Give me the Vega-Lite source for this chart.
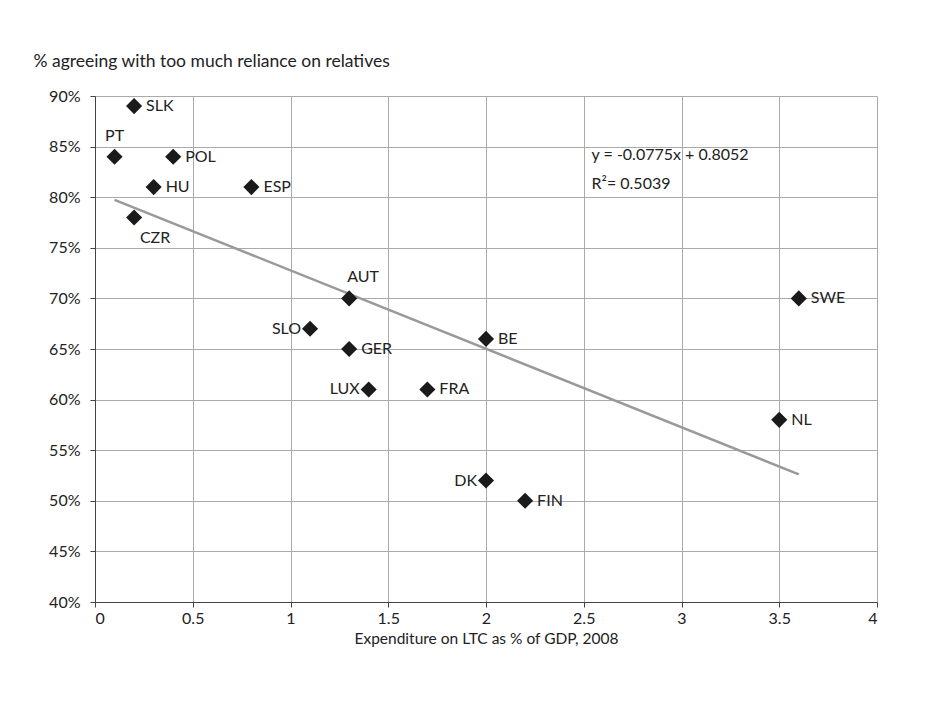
{
  "$schema": "https://vega.github.io/schema/vega-lite/v6.json",
  "width": 782,
  "height": 506,
  "autosize": {"type": "none"},
  "padding": {"left": 95, "top": 96, "right": 49, "bottom": 102},
  "background": "white",
  "config": {
    "font": "Lato",
    "view": {"stroke": null},
    "axis": {
      "labelFont": "Lato",
      "titleFont": "Lato",
      "labelFontSize": 16,
      "titleFontSize": 16,
      "labelColor": "#222",
      "titleColor": "#222",
      "titleFontWeight": "normal",
      "gridColor": "#aaa",
      "gridWidth": 1,
      "gridOpacity": 1,
      "domainColor": "#444",
      "tickColor": "#444",
      "tickSize": 5
    }
  },
  "datasets": {
    "points": [
      {"country": "SLK", "spend": 0.2, "agree": 0.89},
      {"country": "PT", "spend": 0.1, "agree": 0.84},
      {"country": "POL", "spend": 0.4, "agree": 0.84},
      {"country": "HU", "spend": 0.3, "agree": 0.81},
      {"country": "ESP", "spend": 0.8, "agree": 0.81},
      {"country": "CZR", "spend": 0.2, "agree": 0.78},
      {"country": "AUT", "spend": 1.3, "agree": 0.70},
      {"country": "SLO", "spend": 1.1, "agree": 0.67},
      {"country": "GER", "spend": 1.3, "agree": 0.65},
      {"country": "BE", "spend": 2.0, "agree": 0.66},
      {"country": "LUX", "spend": 1.4, "agree": 0.61},
      {"country": "FRA", "spend": 1.7, "agree": 0.61},
      {"country": "SWE", "spend": 3.6, "agree": 0.70},
      {"country": "NL", "spend": 3.5, "agree": 0.58},
      {"country": "DK", "spend": 2.0, "agree": 0.52},
      {"country": "FIN", "spend": 2.2, "agree": 0.50}
    ],
    "equation": [
      {"label": "y = -0.0775x + 0.8052", "spend": 2.54, "agree": 0.8417},
      {"label": "R²= 0.5039", "spend": 2.54, "agree": 0.813}
    ]
  },
  "layer": [
    {
      "data": {"name": "points"},
      "transform": [{"regression": "agree", "on": "spend"}],
      "mark": {"type": "line", "color": "#999", "strokeWidth": 2.5},
      "encoding": {
        "x": {
          "field": "spend", "type": "quantitative",
          "scale": {"domain": [0, 4], "nice": false, "zero": false},
          "axis": {
            "values": [0, 0.5, 1, 1.5, 2, 2.5, 3, 3.5, 4],
            "format": "~g",
            "title": "Expenditure on LTC as % of GDP, 2008",
            "titleFontSize": 15.5,
            "labelPadding": 3,
            "titlePadding": 5,
            "domain": true
          }
        },
        "y": {
          "field": "agree", "type": "quantitative",
          "scale": {"domain": [0.4, 0.9], "nice": false, "zero": false},
          "axis": {
            "values": [0.4, 0.45, 0.5, 0.55, 0.6, 0.65, 0.7, 0.75, 0.8, 0.85, 0.9],
            "format": ".0%",
            "title": "% agreeing with too much reliance on relatives",
            "titleFontSize": 17.5,
            "titleAngle": 0,
            "titleAlign": "left",
            "titleBaseline": "middle",
            "titleX": -62,
            "titleY": -35,
            "labelPadding": 10,
            "domain": true
          }
        }
      }
    },
    {
      "data": {"name": "points"},
      "mark": {"type": "point", "shape": "diamond", "filled": true, "size": 260, "color": "#1a1a1a", "opacity": 1},
      "encoding": {
        "x": {"field": "spend", "type": "quantitative"},
        "y": {"field": "agree", "type": "quantitative"}
      }
    },
    {
      "data": {"name": "points"},
      "transform": [{"filter": {"field": "country", "oneOf": ["SLK", "POL", "HU", "ESP", "GER", "BE", "FRA", "SWE", "NL", "FIN"]}}],
      "mark": {"type": "text", "align": "left", "baseline": "middle", "dx": 12, "fontSize": 16, "color": "#222"},
      "encoding": {
        "x": {"field": "spend", "type": "quantitative"},
        "y": {"field": "agree", "type": "quantitative"},
        "text": {"field": "country"}
      }
    },
    {
      "data": {"name": "points"},
      "transform": [{"filter": {"field": "country", "oneOf": ["SLO", "LUX", "DK"]}}],
      "mark": {"type": "text", "align": "right", "baseline": "middle", "dx": -9, "fontSize": 16, "color": "#222"},
      "encoding": {
        "x": {"field": "spend", "type": "quantitative"},
        "y": {"field": "agree", "type": "quantitative"},
        "text": {"field": "country"}
      }
    },
    {
      "data": {"name": "points"},
      "transform": [{"filter": {"field": "country", "equal": "PT"}}],
      "mark": {"type": "text", "align": "center", "baseline": "middle", "dx": 0, "dy": -21, "fontSize": 16, "color": "#222"},
      "encoding": {
        "x": {"field": "spend", "type": "quantitative"},
        "y": {"field": "agree", "type": "quantitative"},
        "text": {"field": "country"}
      }
    },
    {
      "data": {"name": "points"},
      "transform": [{"filter": {"field": "country", "equal": "AUT"}}],
      "mark": {"type": "text", "align": "center", "baseline": "middle", "dx": 14, "dy": -21, "fontSize": 16, "color": "#222"},
      "encoding": {
        "x": {"field": "spend", "type": "quantitative"},
        "y": {"field": "agree", "type": "quantitative"},
        "text": {"field": "country"}
      }
    },
    {
      "data": {"name": "points"},
      "transform": [{"filter": {"field": "country", "equal": "CZR"}}],
      "mark": {"type": "text", "align": "center", "baseline": "middle", "dx": 21, "dy": 21, "fontSize": 16, "color": "#222"},
      "encoding": {
        "x": {"field": "spend", "type": "quantitative"},
        "y": {"field": "agree", "type": "quantitative"},
        "text": {"field": "country"}
      }
    },
    {
      "data": {"name": "equation"},
      "mark": {"type": "text", "align": "left", "baseline": "middle", "fontSize": 16, "color": "#222"},
      "encoding": {
        "x": {"field": "spend", "type": "quantitative"},
        "y": {"field": "agree", "type": "quantitative"},
        "text": {"field": "label"}
      }
    }
  ]
}
